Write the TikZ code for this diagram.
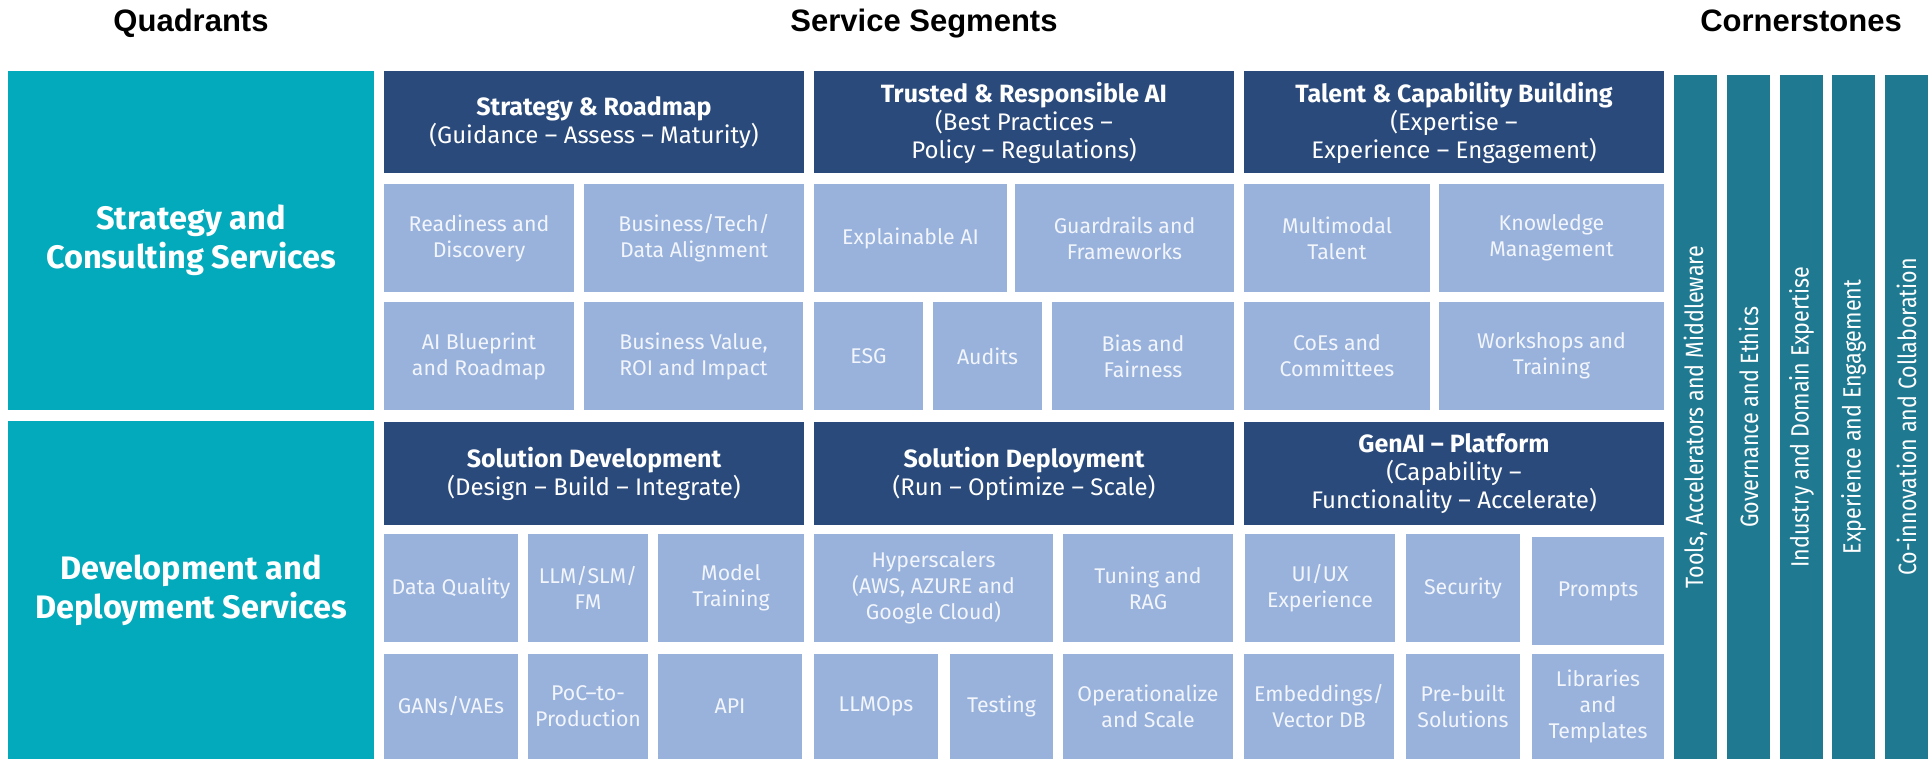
\documentclass[tikz,border=0pt]{standalone}
\usepackage{fontspec}
\setmainfont{Fira Sans}
\newfontfamily\titlefont{Liberation Sans}
\newfontfamily\condfont[FakeStretch=0.86]{Fira Sans}
\definecolor{quadteal}{HTML}{03AABB}
\definecolor{segnavy}{HTML}{2A4A7B}
\definecolor{celllight}{HTML}{98B2DC}
\definecolor{stonebar}{HTML}{1F7A91}
\definecolor{celltext}{HTML}{F2F5FB}

\begin{document}
\begin{tikzpicture}[x=1pt, y=-1pt,
    quad/.style={fill=quadteal, text=white, font=\fontsize{32.5}{39}\selectfont\bfseries, align=center, inner sep=0pt, minimum width=366, minimum height=339},
    head/.style={fill=segnavy, text=white, font=\fontsize{24}{28}\selectfont, align=center, inner sep=0pt, minimum width=420, minimum height=102},
    cell/.style={fill=celllight, text=celltext, font=\fontsize{21.3}{26}\selectfont, align=center, inner sep=0pt, minimum height=108},
    bar/.style={fill=stonebar, text=white, font=\condfont\fontsize{25}{28}\selectfont, inner sep=0pt, minimum width=684, minimum height=43, rotate=90},
    title/.style={font=\titlefont\bfseries\fontsize{31}{36}\selectfont, anchor=base}]
    \useasboundingbox (0,0) rectangle (1929,759);

    % Titles
    \node[title] (tq) at (191,32) {Quadrants};
    \node[title] (ts) at (924,32) {Service Segments};
    \node[title] (tc) at (1801,32) {Cornerstones};

    % Quadrants
    \node[quad] (q1) at (191,240.5) {Strategy and\\Consulting Services};
    \node[quad, minimum height=338] (q2) at (191,590) {Development and\\Deployment Services};

    % Service segments
    \node[head] (s1) at (594,122.5) {{\fontsize{25}{28}\selectfont\bfseries Strategy \& Roadmap}\\(Guidance -- Assess -- Maturity)};
    \node[head] (s2) at (1024,122.5) {{\fontsize{25}{28}\selectfont\bfseries Trusted \& Responsible AI}\\(Best Practices --\\Policy -- Regulations)};
    \node[head] (s3) at (1454,122.5) {{\fontsize{25}{28}\selectfont\bfseries Talent \& Capability Building}\\(Expertise --\\Experience -- Engagement)};
    \node[head, minimum height=103] (s4) at (594,473.5) {{\fontsize{25}{28}\selectfont\bfseries Solution Development}\\(Design -- Build -- Integrate)};
    \node[head, minimum height=103] (s5) at (1024,473.5) {{\fontsize{25}{28}\selectfont\bfseries Solution Deployment}\\(Run -- Optimize -- Scale)};
    \node[head, minimum height=103] (s6) at (1454,473.5) {{\fontsize{25}{28}\selectfont\bfseries GenAI -- Platform}\\(Capability --\\Functionality -- Accelerate)};

    \node[cell, minimum width=190] (rd) at (479,238) {Readiness and\\Discovery};
    \node[cell, minimum width=220] (bt) at (694,238) {Business/Tech/\\Data Alignment};
    \node[cell, minimum width=193] (xai) at (910.5,238) {Explainable AI};
    \node[cell, minimum width=219] (gf) at (1124.5,238) {Guardrails and\\Frameworks};
    \node[cell, minimum width=186] (mt) at (1337,238) {Multimodal\\Talent};
    \node[cell, minimum width=225] (km) at (1551.5,238) {Knowledge\\Management};

    \node[cell, minimum width=190] (bp) at (479,356) {AI Blueprint\\and Roadmap};
    \node[cell, minimum width=219] (bv) at (693.5,356) {Business Value,\\ROI and Impact};
    \node[cell, minimum width=109] (esg) at (868.5,356) {ESG};
    \node[cell, minimum width=109] (au) at (987.5,356) {Audits};
    \node[cell, minimum width=182] (bf) at (1143,356) {Bias and\\Fairness};
    \node[cell, minimum width=186] (coe) at (1337,356) {CoEs and\\Committees};
    \node[cell, minimum width=225] (wt) at (1551.5,356) {Workshops and\\Training};

    \node[cell, minimum width=134] (dq) at (451,588) {Data Quality};
    \node[cell, minimum width=120] (llm) at (588,588) {LLM/SLM/\\FM};
    \node[cell, minimum width=146] (mtr) at (731,588) {Model\\Training};
    \node[cell, minimum width=239] (hs) at (933.5,588) {Hyperscalers\\(AWS, AZURE and\\Google Cloud)};
    \node[cell, minimum width=170] (tr) at (1148,588) {Tuning and\\RAG};
    \node[cell, minimum width=150] (ux) at (1320,588) {UI/UX\\Experience};
    \node[cell, minimum width=114] (sec) at (1463,588) {Security};
    \node[cell, minimum width=132] (pr) at (1598,591) {Prompts};

    \node[cell, minimum width=134, minimum height=105] (gan) at (451,706.5) {GANs/VAEs};
    \node[cell, minimum width=120, minimum height=105] (poc) at (588,706.5) {PoC--to-\\Production};
    \node[cell, minimum width=144, minimum height=105] (api) at (730,706.5) {API};
    \node[cell, minimum width=124, minimum height=105] (ops) at (876,706.5) {LLMOps};
    \node[cell, minimum width=103, minimum height=105] (te) at (1001.5,706.5) {Testing};
    \node[cell, minimum width=170, minimum height=105] (os) at (1148,706.5) {Operationalize\\and Scale};
    \node[cell, minimum width=150, minimum height=105] (emb) at (1319,706.5) {Embeddings/\\Vector DB};
    \node[cell, minimum width=114, minimum height=105] (pb) at (1463,706.5) {Pre-built\\Solutions};
    \node[cell, minimum width=132, minimum height=105] (lt) at (1598,706.5) {Libraries\\and\\Templates};

    % Cornerstones
    \node[bar] (b1) at (1695.5,417) {Tools, Accelerators and Middleware};
    \node[bar] (b2) at (1748.5,417) {Governance and Ethics};
    \node[bar] (b3) at (1801.5,417) {Industry and Domain Expertise};
    \node[bar] (b4) at (1853.5,417) {Experience and Engagement};
    \node[bar] (b5) at (1906.5,417) {Co-innovation and Collaboration};
\end{tikzpicture}
\end{document}
